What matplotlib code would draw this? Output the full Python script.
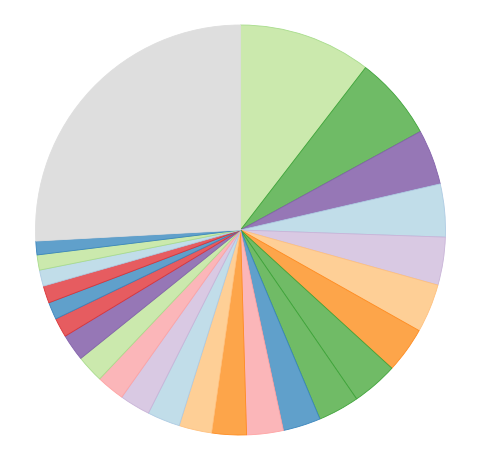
import matplotlib
matplotlib.use("Agg")
from matplotlib import pyplot as plt

# slice sizes in degrees, clockwise from 12 o'clock
sizes = [37.6, 23.7, 15.7, 15.0, 13.6, 13.8, 13.0, 13.1, 11.7, 10.7, 10.4,
         9.8, 9.3, 9.3, 8.7, 8.0, 7.8, 7.6, 5.5, 4.9, 4.9, 4.6, 4.3, 3.9, 93.1]
colors = ['#cbe9ad', '#6fbb66', '#9677b6', '#c1dde9', '#d9c9e3', '#fecf96',
          '#fda54a', '#70bb66', '#70bb66', '#60a0cb', '#fbb6b9', '#fda54a',
          '#fecf96', '#c1dde9', '#d9c9e3', '#fbb6b9', '#cbe9ad', '#9677b6',
          '#e65c60', '#60a0cb', '#e65c60', '#c1dde9', '#cbe9ad', '#60a0cb',
          '#dedede']

# stroke colour for each fill
stroke = {'#cbe9ad': '#a8dc8c', '#6fbb66': '#3fa43a', '#9677b6': '#8462ac',
          '#c1dde9': '#aecbe3', '#d9c9e3': '#c9b4d8', '#fecf96': '#ffc17f',
          '#fda54a': '#ff8c20', '#70bb66': '#3fa43a', '#60a0cb': '#3a85bd',
          '#fbb6b9': '#ffa3a3', '#e65c60': '#da3438', '#dedede': '#dedede'}

W, H = 483, 463
cx, cy, r = 240.5, 230, 205

fig = plt.figure(figsize=(W / 100, H / 100), dpi=100)
ax = fig.add_axes([0, 0, 1, 1])
wedges, _ = ax.pie(sizes, colors=colors, startangle=90, counterclock=False,
                   radius=1, wedgeprops=dict(linewidth=0.6))
for w, c in zip(wedges, colors):
    w.set_edgecolor(stroke[c])
ax.set_xlim(-cx / r, (W - cx) / r)
ax.set_ylim(-(H - cy) / r, cy / r)
ax.axis('off')
fig.savefig('out.png', dpi=100)
